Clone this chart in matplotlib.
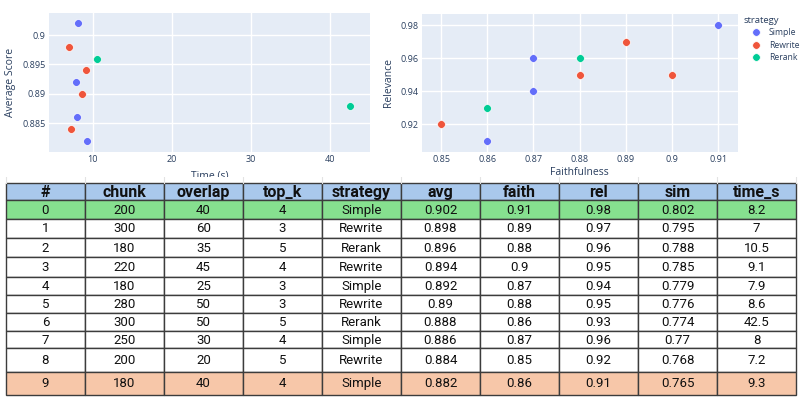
import matplotlib.pyplot as plt
from matplotlib.lines import Line2D
from matplotlib.patches import Rectangle

# experiment results
run_id = [0, 1, 2, 3, 4, 5, 6, 7, 8, 9]
chunk = [200, 300, 180, 220, 180, 280, 300, 250, 200, 180]
overlap = [40, 60, 35, 45, 25, 50, 50, 30, 20, 40]
top_k = [4, 3, 5, 4, 3, 3, 5, 4, 5, 4]
strategy = ["Simple", "Rewrite", "Rerank", "Rewrite", "Simple",
            "Rewrite", "Rerank", "Simple", "Rewrite", "Simple"]
avg = [0.902, 0.898, 0.896, 0.894, 0.892, 0.89, 0.888, 0.886, 0.884, 0.882]
faith = [0.91, 0.89, 0.88, 0.9, 0.87, 0.88, 0.86, 0.87, 0.85, 0.86]
rel = [0.98, 0.97, 0.96, 0.95, 0.94, 0.95, 0.93, 0.96, 0.92, 0.91]
sim = [0.802, 0.795, 0.788, 0.785, 0.779, 0.776, 0.774, 0.77, 0.768, 0.765]
time_s = [8.2, 7, 10.5, 9.1, 7.9, 8.6, 42.5, 8, 7.2, 9.3]

columns = ["#", "chunk", "overlap", "top_k", "strategy",
           "avg", "faith", "rel", "sim", "time_s"]
strategies = ["Simple", "Rewrite", "Rerank"]

# tick labels as plotly shows them
avg_ticks = [0.885, 0.89, 0.895, 0.9]
avg_ticklabels = ["0.885", "0.89", "0.895", "0.9"]
time_ticks = [10, 20, 30, 40]
faith_ticks = [0.85, 0.86, 0.87, 0.88, 0.89, 0.9, 0.91]
faith_ticklabels = ["0.85", "0.86", "0.87", "0.88", "0.89", "0.9", "0.91"]
rel_ticks = [0.92, 0.94, 0.96, 0.98]
rel_ticklabels = ["0.92", "0.94", "0.96", "0.98"]

colors = {"Simple": "#636EFA", "Rewrite": "#EF553B", "Rerank": "#00CC96"}
txt = "#2a3f5f"
W, H = 800, 398

fig = plt.figure(figsize=(8, 3.98), dpi=100)
plt.rcParams['font.family'] = ['Open Sans', 'DejaVu Sans']


def px_axes(x0, y0, x1, y1):
    return fig.add_axes([x0 / W, 1 - y1 / H, (x1 - x0) / W, (y1 - y0) / H])


def style(ax):
    ax.set_facecolor("#E5ECF6")
    for s in ax.spines.values():
        s.set_visible(False)
    ax.grid(True, color="white", lw=1)
    ax.set_axisbelow(True)
    ax.tick_params(length=0, labelsize=6.5, labelcolor=txt, pad=2.5)


def scatter(ax, xs, ys):
    for s in strategies:
        xx = [x for x, st in zip(xs, strategy) if st == s]
        yy = [y for y, st in zip(ys, strategy) if st == s]
        ax.scatter(xx, yy, s=32, color=colors[s], edgecolor="white",
                   linewidth=0.5, zorder=3)


# left plot: avg vs time
ax1 = px_axes(49, 13, 370, 152)
style(ax1)
scatter(ax1, time_s, avg)
ax1.set_xlim(4.47, 45.06)
ax1.set_ylim(0.88013, 0.90374)
ax1.set_xticks(time_ticks)
ax1.set_yticks(avg_ticks, avg_ticklabels)
ax1.set_xlabel("Time (s)", fontsize=7.5, color=txt, va="center")
ax1.xaxis.set_label_coords(0.5, -(176 - 152) / 139)
ax1.set_ylabel("Average Score", fontsize=7.5, color=txt, va="center")
ax1.yaxis.set_label_coords((11 - 49) / 321, 0.5)

# right plot: relevance vs faithfulness
ax2 = px_axes(421.7, 14, 737.7, 151.7)
style(ax2)
scatter(ax2, faith, rel)
ax2.set_xlim(0.84582, 0.9142)
ax2.set_ylim(0.90345, 0.98665)
ax2.set_xticks(faith_ticks, faith_ticklabels)
ax2.set_yticks(rel_ticks, rel_ticklabels)
ax2.set_xlabel("Faithfulness", fontsize=7.5, color=txt, va="center")
ax2.xaxis.set_label_coords(0.5, -(172.5 - 151.7) / 137.7)
ax2.set_ylabel("Relevance", fontsize=7.5, color=txt, va="center")
ax2.yaxis.set_label_coords((388 - 421.7) / 316, 0.5)

handles = [Line2D([], [], ls="none", marker="o", ms=5.5, mfc=colors[s],
                  mec="white", mew=0.5) for s in strategies]
leg = ax2.legend(handles, strategies, title="strategy", loc="upper left",
                 bbox_to_anchor=(744 / W, 1 - 16 / H),
                 bbox_transform=fig.transFigure, frameon=False,
                 fontsize=6.2, title_fontsize=6.8, alignment="left",
                 handlelength=2.8, handletextpad=0.1, labelspacing=0.4,
                 borderpad=0, borderaxespad=0)
for t in leg.get_texts():
    t.set_color(txt)
leg.get_title().set_color(txt)

# table screenshot area (covers the bottom of the axis titles)
axt = fig.add_axes([0, 0, 1, (H - 177) / H])
axt.set_zorder(5)
axt.set_xlim(0, W)
axt.set_ylim(H, 177)
axt.set_xticks([])
axt.set_yticks([])
for s in axt.spines.values():
    s.set_visible(False)
axt.set_facecolor("white")

col_edges = [6 + i * 79 for i in range(11)]
row_edges = [183, 200.5, 219, 238, 257.5, 277, 295.5, 313, 331, 348.5, 372, 395]

# faint spreadsheet gridlines above the table
for x in col_edges:
    axt.plot([x, x], [177, 183], color="#e3e3e3", lw=0.8)

rows = [columns] + [[str(run_id[i]), str(chunk[i]), str(overlap[i]),
                     str(top_k[i]), strategy[i], f"{avg[i]:g}", f"{faith[i]:g}",
                     f"{rel[i]:g}", f"{sim[i]:g}", f"{time_s[i]:g}"]
                    for i in range(len(run_id))]

for r, row in enumerate(rows):
    y0, y1 = row_edges[r], row_edges[r + 1]
    if r == 0:
        fc = "#A9C8EC"
    elif r == 1:
        fc = "#86E08F"
    elif r == len(rows) - 1:
        fc = "#F7C7A9"
    else:
        fc = "white"
    for c, val in enumerate(row):
        x0, x1 = col_edges[c], col_edges[c + 1]
        axt.add_patch(Rectangle((x0, y0), x1 - x0, y1 - y0, facecolor=fc,
                                edgecolor="#3c3c3c", lw=1))
        axt.text((x0 + x1) / 2, (y0 + y1) / 2 + 0.5, val, ha="center",
                 va="center", fontsize=11.5 if r == 0 else 9.5,
                 fontweight="bold" if r == 0 else "normal",
                 family="Roboto", color="#111111")

fig.savefig("out.png", dpi=100)
